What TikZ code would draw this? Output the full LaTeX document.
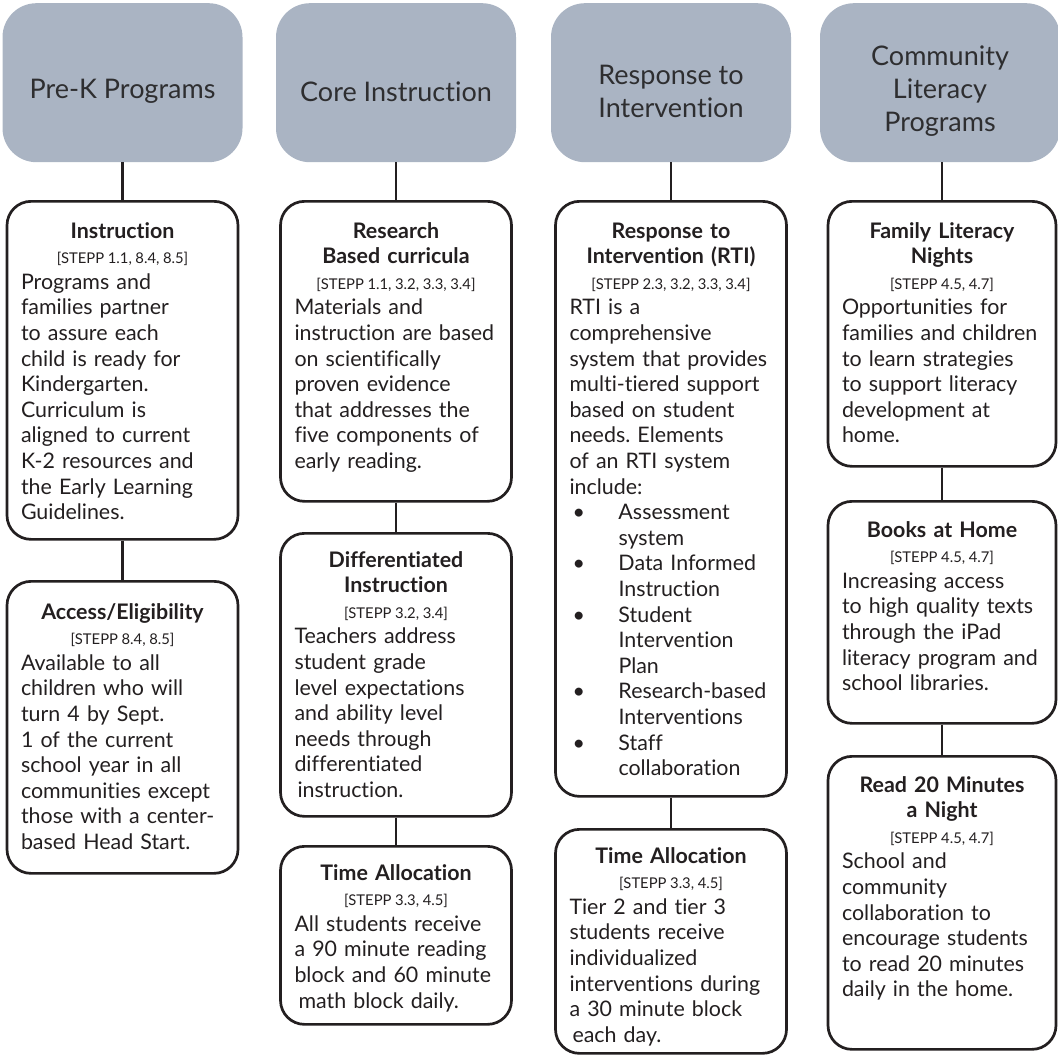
\documentclass[tikz,border=0pt]{standalone}
\usepackage{fontspec}
\setmainfont{Lato}[Ligatures=NoCommon]
\newfontfamily\stepff{Lato}[Ligatures=NoCommon]
\definecolor{hdrfill}{HTML}{AAB4C3}
\definecolor{hdrtext}{HTML}{2E2E30}
\definecolor{ink}{HTML}{231F20}
\frenchspacing
\newcommand{\bodyfont}{\fontsize{21.4}{25.6}\selectfont}
\newcommand{\stepfont}{\stepff\fontsize{14.8}{25.6}\selectfont\spaceskip=3.6pt plus 1pt\relax}
\newcommand{\ttl}[1]{{\centering\bodyfont\bfseries #1\par}}
\newcommand{\stp}[1]{{\centering\stepfont #1\par}}
\newcommand{\bul}{\hspace*{3pt}\makebox[46pt][l]{\textbullet}}
\newcommand{\ind}{\hspace*{49pt}}
\begin{document}
\begin{tikzpicture}[x=1pt,y=-1pt,
  hdr/.style={fill=hdrfill, draw=none, rounded corners=34pt, minimum width=240pt, minimum height=159pt, anchor=north, inner sep=0pt},
  hlabel/.style={text=hdrtext, font=\fontsize{27}{33}\selectfont, align=center},
  box/.style={draw=ink, line width=2.7pt, fill=white, rounded corners=24pt, anchor=north, inner sep=0pt},
  txt/.style={anchor=base, inner sep=0pt, text=ink, font=\bodyfont},
  conn/.style={draw=ink, line width=2.8pt}]
\useasboundingbox (0,0) rectangle (1057,1062);

% headers
\node[hdr, label={[hlabel, yshift=-9pt]center:Pre-K Programs}] (h1) at (122.5,3) {};
\node[hdr, label={[hlabel, yshift=-9pt]center:Core Instruction}] (h2) at (396,3) {};
\node[hdr, label={[hlabel, yshift=-9pt]center:Response to\\Intervention}] (h3) at (671,3) {};
\node[hdr, label={[hlabel, yshift=-8pt]center:Community\\Literacy\\Programs}] (h4) at (940,3) {};

% column 1
\node[box, minimum width=231pt, minimum height=338pt] (b11) at (122.5,200) {};
\node[box, minimum width=231pt, minimum height=292pt] (b12) at (122.5,580) {};
% column 2
\node[box, minimum width=231pt, minimum height=300pt] (b21) at (396,200) {};
\node[box, minimum width=231pt, minimum height=283pt] (b22) at (396,532) {};
\node[box, minimum width=231pt, minimum height=178pt] (b23) at (396,845) {};
% column 3
\node[box, minimum width=231pt, minimum height=595pt] (b31) at (671,200) {};
\node[box, minimum width=231pt, minimum height=224pt] (b32) at (671,828) {};
% column 4
\node[box, minimum width=228pt, minimum height=265pt] (b41) at (942,200) {};
\node[box, minimum width=228pt, minimum height=222pt] (b42) at (942,500) {};
\node[box, minimum width=228pt, minimum height=293pt] (b43) at (942,755) {};

% connectors
\draw[conn] (h1) -- (b11);
\draw[conn] (b11) -- (b12);
\draw[conn] (h2) -- (b21);
\draw[conn] (b21) -- (b22);
\draw[conn] (b22) -- (b23);
\draw[conn] (h3) -- (b31);
\draw[conn] (b31) -- (b32);
\draw[conn] (h4.south -| b41.north) -- (b41);
\draw[conn] (b41) -- (b42);
\draw[conn] (b42) -- (b43);

% texts column 1
\node[txt, text width=203pt] (t11) at (122.5,238) {\ttl{Instruction}\stp{[STEPP 1.1, 8.4, 8.5]}\raggedright
Programs and\\ families partner\\ to assure each\\ child is ready for\\ Kindergarten.\\ Curriculum is\\ aligned to current\\ K-2 resources and\\ the Early Learning\\ Guidelines.\par};
\node[txt, text width=203pt] (t12) at (122.5,619) {\ttl{Access/Eligibility}\stp{[STEPP 8.4, 8.5]}\raggedright
Available to all\\ children who will\\ turn 4 by Sept.\\ 1 of the current\\ school year in all\\ communities except\\ those with a center-\\ based Head Start.\par};

% texts column 2
\node[txt, text width=203pt] (t21) at (396,238) {\ttl{Research\\ Based curricula}\stp{[STEPP 1.1, 3.2, 3.3, 3.4]}\raggedright
Materials and\\ instruction are based\\ on scientifically\\ proven evidence\\ that addresses the\\ five components of\\ early reading.\par};
\node[txt, text width=203pt] (t22) at (396,567) {\ttl{Differentiated\\ Instruction}\stp{[STEPP 3.2, 3.4]}\raggedright
Teachers address\\ student grade\\ level expectations\\ and ability level\\ needs through\\ differentiated\\ \hspace*{3pt}instruction.\par};
\node[txt, text width=203pt] (t23) at (396,880) {\ttl{Time Allocation}\stp{[STEPP 3.3, 4.5]}\raggedright
All students receive\\ a 90 minute reading\\ block and 60 minute\\ \hspace*{4pt}math block daily.\par};

% texts column 3
\node[txt, text width=203pt] (t31) at (671,238) {\ttl{Response to\\ Intervention (RTI)}\stp{[STEPP 2.3, 3.2, 3.3, 3.4]}\raggedright
RTI is a\\ comprehensive\\ system that provides\\ multi-tiered support\\ based on student\\ needs. Elements\\ of an RTI system\\ include:\\
\bul Assessment\\ \ind system\\
\bul Data Informed\\ \ind Instruction\\
\bul Student\\ \ind Intervention\\ \ind Plan\\
\bul Research-based\\ \ind Interventions\\
\bul Staff\\ \ind collaboration\par};
\node[txt, text width=203pt] (t32) at (671,863) {\ttl{Time Allocation}\stp{[STEPP 3.3, 4.5]}\raggedright
Tier 2 and tier 3\\ students receive\\ individualized\\ interventions during\\ a 30 minute block\\ \hspace*{3pt}each day.\par};

% texts column 4
\node[txt, text width=200pt] (t41) at (942,238) {\ttl{Family Literacy\\ Nights}\stp{[STEPP 4.5, 4.7]}\raggedright
Opportunities for\\ families and children\\ to learn strategies\\ to support literacy\\ development at\\ home.\par};
\node[txt, text width=200pt] (t42) at (942,537) {\ttl{Books at Home}\stp{[STEPP 4.5, 4.7]}\raggedright
Increasing access\\ to high quality texts\\ through the iPad\\ literacy program and\\ school libraries.\par};
\node[txt, text width=200pt] (t43) at (942,792) {\ttl{Read 20 Minutes\\ a Night}\stp{[STEPP 4.5, 4.7]}\raggedright
School and\\ community\\ collaboration to\\ encourage students\\ to read 20 minutes\\ daily in the home.\par};
\end{tikzpicture}
\end{document}
